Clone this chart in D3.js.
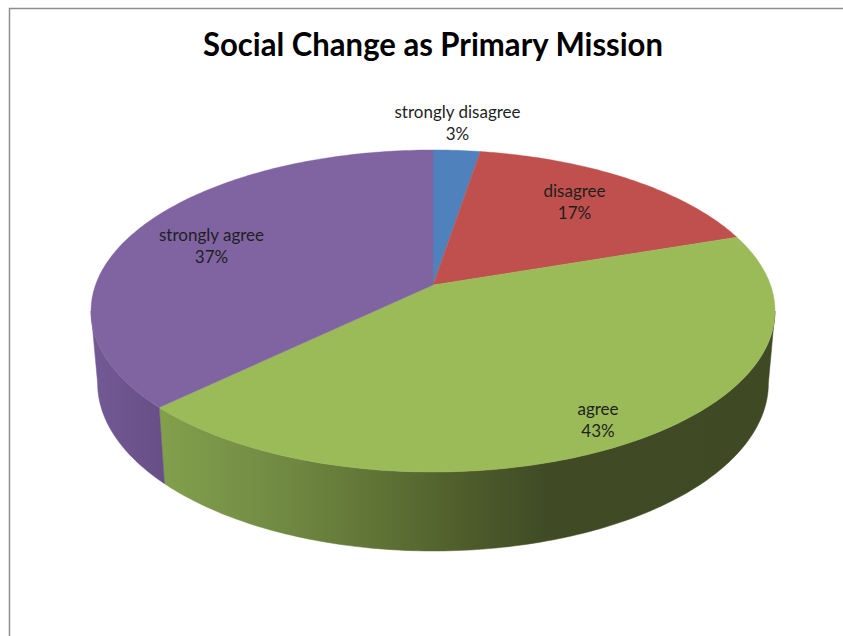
<!DOCTYPE html>
<html><head><meta charset="utf-8">
<script src="https://cdn.jsdelivr.net/npm/d3@7"></script>
<style>html,body{margin:0;padding:0;background:#fff}svg{display:block}text{font-family:Lato,"Open Sans",sans-serif}</style>
</head><body><div id="c"></div>
<script>
const chartTitle = "Social Change as Primary Mission";
const categories = ["strongly disagree","disagree","agree","strongly agree"];
const values = [2.6,17.2,43.0,37.2];
const percentLabels = ["3%","17%","43%","37%"];
const colors = ["#4f81bd","#c0504d","#9bbb59","#8064a2"];

const W=843,H=636;
const svg=d3.select("#c").append("svg").attr("width",W).attr("height",H);
const defs=svg.append("defs");

// chart frame
svg.append("rect").attr("width",W).attr("height",H).attr("fill","#fff");
svg.append("path").attr("d",`M9.5,${H}V8.5H${W}`).attr("fill","none").attr("stroke","#8e8e8e").attr("stroke-width",1.5);

// perspective projection of a unit disc onto the screen
const cx=433, cyApex=285, persp=-0.1615;
function project(t,R,a,b){
  const u=Math.sin(t), v=-Math.cos(t), d=1+persp*v;
  return [cx+R*u/d,(a*v+b)/d];
}
const topP=t=>project(t,337.5,110.8,cyApex);
const botP=t=>project(t,331,106,356);

const arcs=d3.pie().sort(null).value(d=>d)(values);
const line=d3.line();
const sample=(t0,t1)=>{
  const n=Math.max(2,Math.ceil((t1-t0)*60));
  return d3.range(n+1).map(i=>t0+(t1-t0)*i/n);
};

// side wall gradients
const gradGreen=defs.append("linearGradient").attr("id","sideGreen")
  .attr("gradientUnits","userSpaceOnUse").attr("x1",158).attr("x2",775).attr("y1",0).attr("y2",0);
[[0,"#82a04c"],[0.2,"#718a43"],[0.36,"#5f7335"],[0.5,"#4e5c2b"],[0.63,"#404b25"],[1,"#3f4a25"]]
  .forEach(s=>gradGreen.append("stop").attr("offset",s[0]).attr("stop-color",s[1]));
const gradPurple=defs.append("linearGradient").attr("id","sidePurple")
  .attr("gradientUnits","userSpaceOnUse").attr("x1",91).attr("x2",165).attr("y1",0).attr("y2",0);
[[0,"#745a95"],[1,"#674e85"]]
  .forEach(s=>gradPurple.append("stop").attr("offset",s[0]).attr("stop-color",s[1]));
const sideFill=["none","none","url(#sideGreen)","url(#sidePurple)"];

// the wall is visible between the two silhouette angles
const silR=Math.acos(persp), silL=2*Math.PI-silR;
arcs.forEach((d,i)=>{
  const t0=Math.max(d.startAngle,silR), t1=Math.min(d.endAngle,silL);
  if(t1<=t0) return;
  const ts=sample(t0,t1);
  const pts=ts.map(topP).concat(ts.slice().reverse().map(botP));
  svg.append("path").attr("d",line(pts)+"Z").attr("fill",sideFill[i]).attr("stroke",sideFill[i]).attr("stroke-width",0.5);
});

// top faces
arcs.forEach((d,i)=>{
  const pts=[[cx,cyApex]];
  sample(d.startAngle,d.endAngle).forEach(t=>pts.push(topP(t)));
  svg.append("path").attr("d",line(pts)+"Z").attr("fill",colors[i]).attr("stroke",colors[i]).attr("stroke-width",0.4);
});

// title
svg.append("text").attr("x",433).attr("y",56).attr("text-anchor","middle")
  .attr("font-size",32).attr("font-weight",700).attr("fill","#000")
  .attr("textLength",460).attr("lengthAdjust","spacingAndGlyphs").text(chartTitle);

// data labels
const labelAt=[[457.5,118],[574.5,197],[598,415],[211.5,241]];
categories.forEach((c,i)=>{
  const g=svg.append("g").attr("transform",`translate(${labelAt[i][0]},${labelAt[i][1]})`)
    .attr("text-anchor","middle").attr("font-size",17).attr("fill","#1f1f1f");
  g.append("text").text(c);
  g.append("text").attr("y",21.5).text(percentLabels[i]);
});
</script></body></html>
